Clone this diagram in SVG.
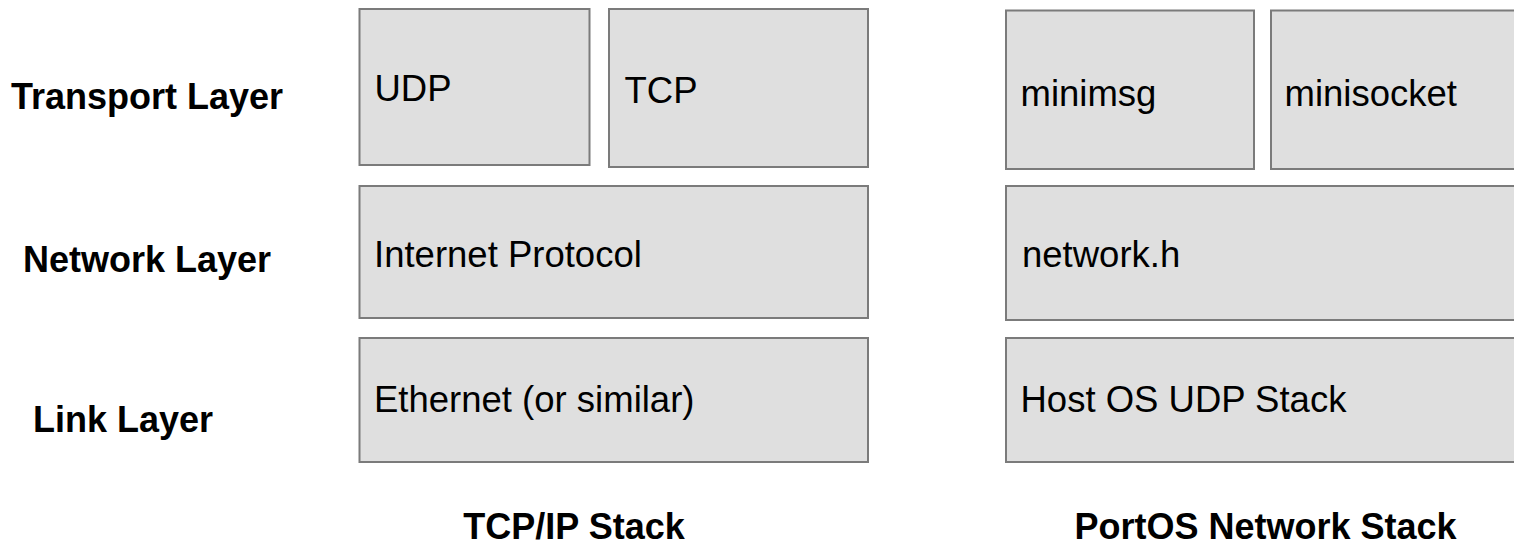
<svg xmlns="http://www.w3.org/2000/svg" width="1514" height="546" viewBox="0 0 1514 546">
  <style>
    .box { fill: #dfdfdf; stroke: #7b7b7b; stroke-width: 2; }
    .lbl { font-family: "Liberation Sans", Arial, sans-serif; font-size: 36.5px; fill: #000; }
    .hdr { font-family: "Liberation Sans", Arial, sans-serif; font-size: 36px; font-weight: bold; fill: #000; }
  </style>
  <rect width="1514" height="546" fill="#ffffff"/>

  <!-- layer captions -->
  <g id="layer-labels">
    <text class="hdr" x="11" y="109">Transport Layer</text>
    <text class="hdr" x="23" y="271.5">Network Layer</text>
    <text class="hdr" x="33" y="431.5">Link Layer</text>
  </g>

  <!-- TCP/IP stack -->
  <g id="udp">
    <rect class="box" x="359.5" y="9" width="230" height="156"/>
    <text class="lbl" x="374.5" y="100.5">UDP</text>
  </g>
  <g id="tcp">
    <rect class="box" x="609" y="9" width="259" height="158"/>
    <text class="lbl" x="624.5" y="103">TCP</text>
  </g>
  <g id="ip">
    <rect class="box" x="359.5" y="186" width="508.5" height="132"/>
    <text class="lbl" x="374" y="267">Internet Protocol</text>
  </g>
  <g id="ethernet">
    <rect class="box" x="359.5" y="338" width="508.5" height="124"/>
    <text class="lbl" x="374" y="412">Ethernet (or similar)</text>
  </g>
  <g id="tcpip-title">
    <text class="hdr" x="574" y="539" text-anchor="middle">TCP/IP Stack</text>
  </g>

  <!-- PortOS stack -->
  <g id="minimsg">
    <rect class="box" x="1006" y="10.5" width="248" height="158.5"/>
    <text class="lbl" x="1020.5" y="106">minimsg</text>
  </g>
  <g id="minisocket">
    <rect class="box" x="1271" y="10.5" width="260" height="158.5"/>
    <text class="lbl" x="1284.5" y="106">minisocket</text>
  </g>
  <g id="network-h">
    <rect class="box" x="1006" y="186" width="525" height="134"/>
    <text class="lbl" x="1022" y="267.3">network.h</text>
  </g>
  <g id="host-udp">
    <rect class="box" x="1006" y="338" width="525" height="124"/>
    <text class="lbl" x="1020.5" y="411.7">Host OS UDP Stack</text>
  </g>
  <g id="portos-title">
    <text class="hdr" x="1265.5" y="539" text-anchor="middle">PortOS Network Stack</text>
  </g>
</svg>
